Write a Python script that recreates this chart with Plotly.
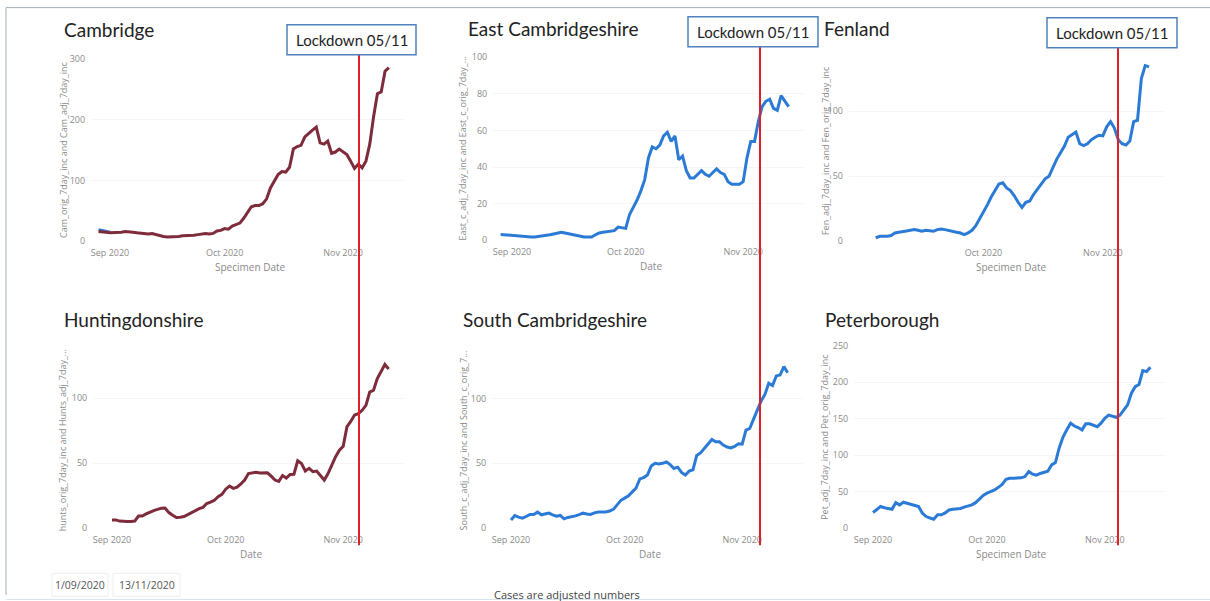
import pandas as pd
import plotly.graph_objects as go

W, H = 1210, 601

# ---------------- data (7 day incidence) ----------------
cam_start = "2020-08-29"
cam_adj = [16, 16, 15, 14, 14, 15, 15, 16, 16, 15,
           14, 13, 13, 12, 13, 11, 9, 8, 7, 7,
           8, 8, 9, 9, 10, 10, 11, 12, 13, 12,
           13, 17, 18, 21, 20, 25, 28, 30, 38, 47,
           57, 59, 59, 62, 70, 88, 100, 110, 115, 114,
           122, 152, 156, 158, 172, 178, 183, 188, 162, 160,
           165, 145, 147, 152, 147, 143, 132, 120, 127, 121,
           132, 160, 205, 243, 246, 280, 286]
cam_orig = [19, 18, 16, 15]

east_start = "2020-08-29"
east_adj = [3.2, 3, 2.8, 2.5, 2.2, 2, 1.8, 1.8, 1.8, 1.8,
            2, 2.3, 2.6, 3, 3.5, 4, 4.4, 4, 3.5, 3,
            2.6, 2.1, 1.8, 1.8, 1.8, 3, 4, 4.4, 4.6, 5,
            5.3, 7.2, 6.8, 6.5, 14, 18, 22, 27, 33, 45,
            51, 50, 52, 57, 59, 54, 57, 44, 46, 38,
            34, 34, 36, 38, 36, 35, 37, 39, 37, 36,
            32, 30.6, 30.6, 30.6, 32, 45, 54, 54, 65, 73,
            76, 77, 72, 71, 79, 76, 73]

fen_start = "2020-09-03"
fen_adj = [2.6, 3.9, 3.9, 3.9, 4.5, 6.4, 7, 7.7, 8, 8.5,
           9, 8.5, 7.7, 8.5, 8, 7.7, 9, 9.5, 9, 8.5,
           7.5, 7, 6.4, 5.2, 6.4, 8.5, 12, 17, 22, 28,
           34, 39, 44, 45, 41, 39, 35, 30, 26, 30,
           31, 36, 40, 44, 48, 50, 57, 63, 68, 73,
           80, 82, 84, 75, 73.5, 75, 78, 80, 81.5, 81,
           88, 92, 87, 78, 75, 74, 77, 92, 93, 125,
           135, 134]

hunts_start = "2020-09-01"
hunts_adj = [6.4, 6.4, 5.5, 5.1, 5.1, 5.1, 5.5, 9.4, 9.4, 11,
             12.5, 13.5, 14.5, 15.3, 15.5, 12, 10, 8.2, 8.5, 9,
             10.5, 12, 14, 15, 16, 19, 20, 21.5, 24.2, 26,
             30, 32.4, 30.6, 31.5, 34, 37, 42, 42.6, 43, 42.5,
             42.6, 42.6, 40, 37, 36, 40.5, 38.5, 41.3, 41.5, 51.8,
             49.7, 44, 46, 43.4, 43.9, 40, 37, 42, 49, 55,
             60, 63, 78, 82, 87, 88, 90.6, 94.4, 104.6, 106,
             115, 121, 125.8, 122.4]

south_start = "2020-09-01"
south_adj = [6.4, 9.8, 8.5, 7.7, 9, 10.6, 10.6, 12.4, 10.3, 11,
             11.6, 10.3, 9.2, 9.8, 7.2, 8.3, 8.8, 9.5, 10.5, 11.6,
             11, 10.6, 11.8, 12.4, 12.4, 12.5, 13.2, 14.5, 18, 21.5,
             23.2, 25, 28, 31, 38, 39, 41, 48, 50, 49.5,
             50, 51, 49, 46, 47, 43, 41, 44, 45, 56,
             58, 61.3, 65, 68.3, 66.5, 66.5, 64, 62.5, 61.9, 63,
             65, 64.7, 75.5, 76.8, 84, 91, 98, 103, 111.6, 109.8,
             117.3, 118, 124.5, 119.8]

pet_start = "2020-09-01"
pet_adj = [21.5, 25, 29.7, 28, 27, 26, 35, 32, 35.6, 34,
           32.9, 31, 29.7, 20.5, 16, 14, 12.3, 18.3, 18.3, 21,
           25, 26, 26.5, 27, 29, 30.6, 32, 35, 40, 45,
           48, 50, 52.5, 56, 60, 67, 68.5, 68.5, 68.5, 69,
           70.8, 77.6, 74, 72.6, 75, 76, 78, 86.8, 90, 110,
           125, 135, 143.8, 140, 138, 134.7, 143, 143, 141, 139,
           144, 150.7, 155, 153, 152, 155, 162, 169, 185, 194,
           197, 216, 214.6, 220.5]

month_ticks = ["2020-09-01", "2020-10-01", "2020-11-01"]
lockdown_label = "Lockdown 05/11"

MAROON = "#7e2b3b"
BLUE = "#2b7bd6"
GREY = "#8a8a8a"

# ---------------- panel layout (pixels) ----------------
panels = [
    dict(title="Cambridge", ytitle="Cam_orig_7day_inc and Cam_adj_7day_inc", xtitle="Specimen Date",
         start=cam_start, y=cam_adj, color=MAROON, sep1=110, k=3.82, y0=242, ppu=0.6067, ymax=300,
         yt=[0, 100, 200, 300], xt=month_ticks, tpos=(62, 31), ytx=63, xtx=250),
    dict(title="East Cambridgeshire", ytitle="East_c_adj_7day_inc and East_c_orig_7day_...", xtitle="Date",
         start=east_start, y=east_adj, color=BLUE, sep1=512, k=3.79, y0=241, ppu=1.83, ymax=100,
         yt=[0, 20, 40, 60, 80, 100], xt=month_ticks, tpos=(466, 30), ytx=463, xtx=651),
    dict(title="Fenland", ytitle="Fen_adj_7day_inc and Fen_orig_7day_inc", xtitle="Specimen Date",
         start=fen_start, y=fen_adj, color=BLUE, sep1=868, k=3.85, y0=242, ppu=1.30, ymax=140,
         yt=[0, 50, 100], xt=month_ticks[1:], tpos=(822, 30), ytx=825, xtx=1011),
    dict(title="Huntingdonshire", ytitle="hunts_orig_7day_inc and Hunts_adj_7day_...", xtitle="Date",
         start=hunts_start, y=hunts_adj, color=MAROON, sep1=112, k=3.79, y0=528, ppu=1.30, ymax=135,
         yt=[0, 50, 100], xt=month_ticks, tpos=(62, 320), ytx=62, xtx=251),
    dict(title="South Cambridgeshire", ytitle="South_c_adj_7day_inc and South_c_orig_7...", xtitle="Date",
         start=south_start, y=south_adj, color=BLUE, sep1=511, k=3.79, y0=528, ppu=1.297, ymax=135,
         yt=[0, 50, 100], xt=month_ticks, tpos=(461, 320), ytx=463, xtx=650),
    dict(title="Peterborough", ytitle="Pet_adj_7day_inc and Pet_orig_7day_inc", xtitle="Specimen Date",
         start=pet_start, y=pet_adj, color=BLUE, sep1=873, k=3.80, y0=528, ppu=0.729, ymax=250,
         yt=[0, 50, 100, 150, 200, 250], xt=month_ticks, tpos=(823, 320), ytx=825, xtx=1011),
]

# lockdown boxes: x0, x1, y0, y1, red line x
boxes = [(287, 416, 26, 56, 359), (688, 818, 18, 48, 760), (1047, 1177, 19, 49, 1118)]

# the photographed page comes out slightly squeezed vertically, so pixel targets are
# mapped back through that squeeze (measured from the previous render)
Y_OFF, Y_SCALE = 7.4, 0.977


def fx(p):
    return p / W


def fy(p):
    return 1 - ((p - Y_OFF) / Y_SCALE) / H


fig = go.Figure()
annotations = []
shapes = []
layout = {}

for i, p in enumerate(panels, start=1):
    sfx = "" if i == 1 else str(i)
    dates = pd.date_range(p["start"], periods=len(p["y"]), freq="D")
    if i == 1:
        fig.add_trace(go.Scatter(
            x=pd.date_range(cam_start, periods=len(cam_orig), freq="D"), y=cam_orig,
            mode="lines", line=dict(color=BLUE, width=3), xaxis="x", yaxis="y",
            showlegend=False, hoverinfo="skip"))
    fig.add_trace(go.Scatter(
        x=dates, y=p["y"], mode="lines", line=dict(color=p["color"], width=3),
        xaxis="x" + sfx, yaxis="y" + sfx, showlegend=False))

    # x axis: Aug 27 .. Nov 17 (5 days before / 77 days after 1 Sep)
    left = p["sep1"] - 5 * p["k"]
    right = p["sep1"] + 77 * p["k"]
    top = p["y0"] - p["ymax"] * p["ppu"]
    layout["xaxis" + sfx] = dict(
        domain=[fx(left), fx(right)], range=["2020-08-27", "2020-11-17"],
        anchor="y" + sfx, tickvals=p["xt"], tickformat="%b %Y",
        showgrid=False, zeroline=False, showline=False,
        ticks="outside", ticklen=3, tickcolor="rgba(0,0,0,0)",
        tickfont=dict(family="Open Sans", size=9, color=GREY))
    layout["yaxis" + sfx] = dict(
        domain=[fy(p["y0"]), fy(top)], range=[0, p["ymax"] * 1.002],
        anchor="x" + sfx, tickvals=p["yt"],
        showgrid=True, gridcolor="#f5f5f5", zeroline=False, showline=False,
        ticks="outside", ticklen=3, tickcolor="rgba(0,0,0,0)",
        tickfont=dict(family="Open Sans", size=9, color=GREY))

    annotations.append(dict(
        text=p["title"], x=fx(p["tpos"][0]), y=fy(p["tpos"][1]), xref="paper", yref="paper",
        xanchor="left", yanchor="middle", showarrow=False,
        font=dict(family="Lato", size=19, color="#222222")))
    annotations.append(dict(
        text=p["ytitle"], x=fx(p["ytx"]), y=fy((p["y0"] + top) / 2), xref="paper", yref="paper",
        xanchor="center", yanchor="middle", textangle=-90, showarrow=False,
        font=dict(family="Open Sans", size=9, color=GREY)))
    annotations.append(dict(
        text=p["xtitle"], x=fx(p["xtx"]), y=fy(p["y0"] + 26), xref="paper", yref="paper",
        xanchor="center", yanchor="middle", showarrow=False,
        font=dict(family="Open Sans", size=10, color=GREY)))

# lockdown markers
for x0, x1, y0, y1, lx in boxes:
    shapes.append(dict(type="line", xref="paper", yref="paper",
                       x0=fx(lx), x1=fx(lx), y0=fy(y1), y1=fy(545),
                       line=dict(color="#e01f26", width=2)))
    shapes.append(dict(type="rect", xref="paper", yref="paper",
                       x0=fx(x0), x1=fx(x1), y0=fy(y1), y1=fy(y0),
                       fillcolor="white", line=dict(color="#4f81bd", width=1.5)))
    annotations.append(dict(
        text=lockdown_label, x=fx((x0 + x1) / 2), y=fy((y0 + y1) / 2), xref="paper", yref="paper",
        xanchor="center", yanchor="middle", showarrow=False,
        font=dict(family="Lato", size=15, color="#222222")))

# dashboard frame
shapes.append(dict(type="line", xref="paper", yref="paper", x0=fx(6), x1=1, y0=fy(9), y1=fy(9),
                   line=dict(color="#a4adb6", width=1)))
shapes.append(dict(type="line", xref="paper", yref="paper", x0=fx(6), x1=fx(6), y0=0, y1=fy(9),
                   line=dict(color="#a4adb6", width=1)))
shapes.append(dict(type="line", xref="paper", yref="paper", x0=fx(6), x1=1, y0=fy(599), y1=fy(599),
                   line=dict(color="#d4e3ec", width=1)))

# date slicer
for x0, x1, txt in [(52, 108, "1/09/2020"), (113, 180, "13/11/2020")]:
    shapes.append(dict(type="rect", xref="paper", yref="paper",
                       x0=fx(x0), x1=fx(x1), y0=fy(596), y1=fy(573),
                       fillcolor="white", line=dict(color="#eeeeee", width=1)))
    annotations.append(dict(
        text=txt, x=fx((x0 + x1) / 2), y=fy(585), xref="paper", yref="paper",
        xanchor="center", yanchor="middle", showarrow=False,
        font=dict(family="Open Sans", size=10.5, color="#555555")))

annotations.append(dict(
    text="Cases are adjusted numbers", x=fx(567), y=fy(594), xref="paper", yref="paper",
    xanchor="center", yanchor="middle", showarrow=False,
    font=dict(family="Open Sans", size=11, color="#444444")))

fig.update_layout(
    width=W, height=H, margin=dict(l=0, r=0, t=0, b=0),
    paper_bgcolor="white", plot_bgcolor="white",
    annotations=annotations, shapes=shapes, **layout)

# page without the default body margin so the figure sits at the window origin
fig.write_html("out.html", config={"displayModeBar": False},
               post_script="document.body.style.margin='0';document.body.style.overflow='hidden';")
